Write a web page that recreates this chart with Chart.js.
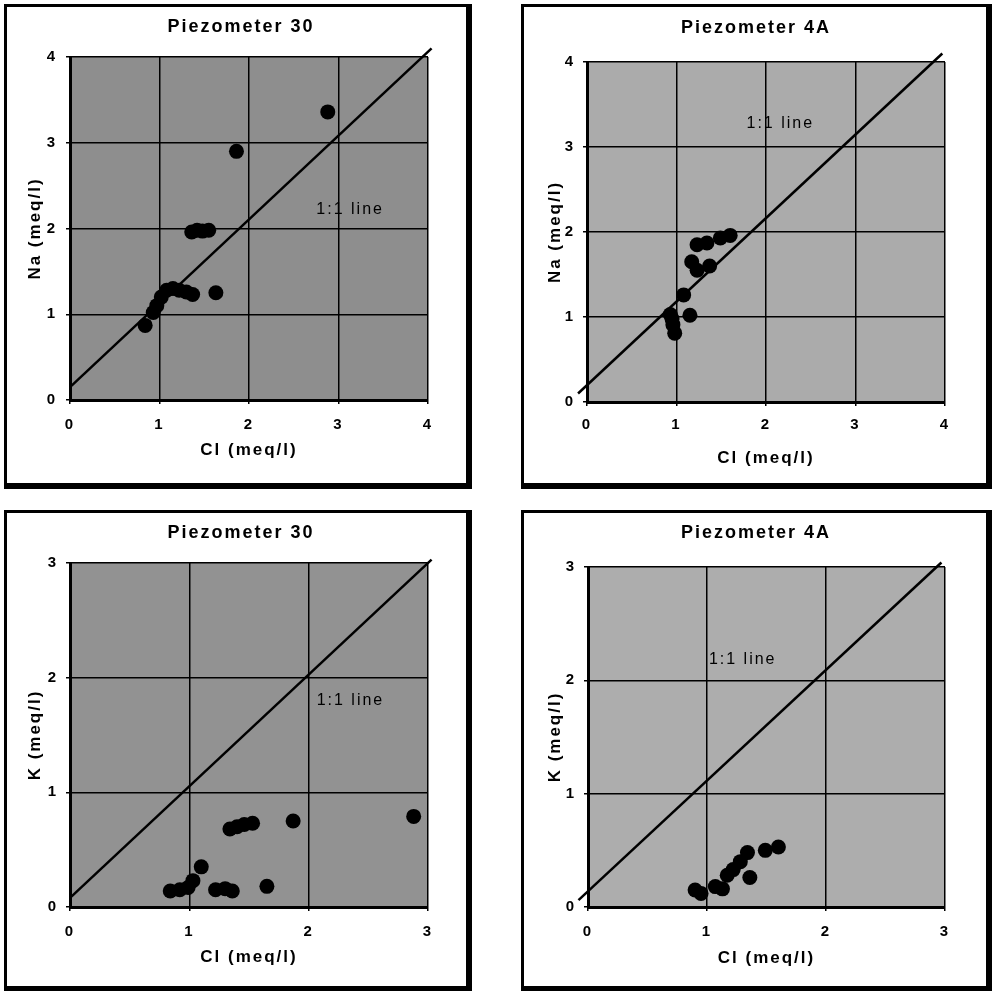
<!DOCTYPE html>
<html><head><meta charset="utf-8">
<script src="https://cdn.jsdelivr.net/npm/chart.js@4"></script>
<style>
html,body{margin:0;padding:0;background:#fff;width:996px;height:991px;overflow:hidden;}
.panel{position:absolute;}
.panel canvas{position:absolute;left:0;top:0;}
.frame{position:absolute;left:0;top:0;right:0;bottom:0;box-sizing:border-box;border-style:solid;border-color:#000;pointer-events:none;}
</style></head><body>
<div id="p0" class="panel"><canvas id="c0"></canvas><div class="frame"></div></div>
<div id="p1" class="panel"><canvas id="c1"></canvas><div class="frame"></div></div>
<div id="p2" class="panel"><canvas id="c2"></canvas><div class="frame"></div></div>
<div id="p3" class="panel"><canvas id="c3"></canvas><div class="frame"></div></div>
<script>
// ---------- data ----------
const ticksNa = [0, 1, 2, 3, 4];
const ticksK = [0, 1, 2, 3];
const titles = ['Piezometer 30', 'Piezometer 4A', 'Piezometer 30', 'Piezometer 4A'];
const xTitle = 'Cl (meq/l)';
const yTitles = ['Na (meq/l)', 'Na (meq/l)', 'K (meq/l)', 'K (meq/l)'];
const lineLabel = '1:1 line';

// Piezometer 30: Na vs Cl
const cl30Na = [2.88, 1.86, 1.36, 1.42, 1.48, 1.55, 1.63, 1.08, 1.15, 1.22, 1.30, 1.37, 1.02, 0.97, 0.93, 0.84];
const na30   = [3.36, 2.90, 1.96, 1.98, 1.97, 1.98, 1.25, 1.28, 1.30, 1.28, 1.26, 1.23, 1.20, 1.10, 1.02, 0.87];
// Piezometer 4A: Na vs Cl
const cl4ANa = [1.23, 1.34, 1.49, 1.60, 1.17, 1.23, 1.37, 1.08, 1.15, 0.93, 0.96, 0.98, 0.95];
const na4A   = [1.85, 1.87, 1.93, 1.96, 1.65, 1.55, 1.60, 1.26, 1.02, 1.03, 0.91, 0.81, 0.98];
// Piezometer 30: K vs Cl
const cl30K = [2.88, 1.87, 1.34, 1.40, 1.46, 1.53, 1.10, 1.65, 0.84, 0.92, 0.99, 1.03, 1.22, 1.30, 1.36];
const k30   = [0.79, 0.75, 0.68, 0.70, 0.72, 0.73, 0.35, 0.18, 0.14, 0.15, 0.17, 0.23, 0.15, 0.16, 0.14];
// Piezometer 4A: K vs Cl
const cl4AK = [0.90, 0.95, 1.07, 1.13, 1.17, 1.22, 1.28, 1.34, 1.36, 1.49, 1.60];
const k4A   = [0.15, 0.12, 0.18, 0.16, 0.28, 0.33, 0.40, 0.48, 0.26, 0.50, 0.53];

// 1:1 reference lines (end points as drawn)
const line30NaX = [0, 4.04],     line30NaY = [0.15, 4.1];
const line4ANaX = [-0.1, 3.97],  line4ANaY = [0.1, 4.1];
const line30KX  = [0, 3.03],     line30KY  = [0.08, 3.03];
const line4AKX  = [-0.08, 2.97], line4AKY  = [0.06, 3.04];

// ---------- layout / style ----------
const panels = [
  {L:4,   T:4,   W:468, H:485, bw:'3px 6px 6px 3px', pL:66, pR:424, pT:53, pB:396, tX:236, tY:23, yT:31, xT:446, xG:25, yG:13, bg:'#8e8e8e',
   xs:cl30Na, ys:na30, lx:line30NaX, ly:line30NaY, ticks:ticksNa, lab:[3.13, 2.22]},
  {L:521, T:4,   W:471, H:485, bw:'3px 6px 6px 3px', pL:66, pR:424, pT:58, pB:398, tX:234, tY:24, yT:34, xT:454, xG:23, yG:12, bg:'#ababab',
   xs:cl4ANa, ys:na4A, lx:line4ANaX, ly:line4ANaY, ticks:ticksNa, lab:[2.16, 3.28]},
  {L:4,   T:510, W:468, H:481, bw:'3px 6px 5px 3px', pL:66, pR:424, pT:53, pB:397, tX:236, tY:23, yT:31, xT:447, xG:25, yG:12, bg:'#929292',
   xs:cl30K, ys:k30, lx:line30KX, ly:line30KY, ticks:ticksK, lab:[2.35, 1.80]},
  {L:521, T:510, W:471, H:481, bw:'3px 6px 5px 3px', pL:67, pR:424, pT:57, pB:397, tX:234, tY:23, yT:34, xT:448, xG:25, yG:12, bg:'#adadad',
   xs:cl4AK, ys:k4A, lx:line4AKX, ly:line4AKY, ticks:ticksK, lab:[1.30, 2.18]}
];

const FONT = '"Liberation Sans", Arial, sans-serif';
const LS = '2px';

const panelPlugin = {
  id: 'panelDeco',
  beforeUpdate(chart) { chart.ctx.letterSpacing = LS; },
  beforeLayout(chart) { chart.ctx.letterSpacing = LS; },
  beforeDraw(chart, args, opts) {
    const ctx = chart.ctx, a = chart.chartArea;
    ctx.letterSpacing = LS;
    ctx.save();
    ctx.fillStyle = opts.bg;
    ctx.fillRect(a.left, a.top, a.right - a.left, a.bottom - a.top);
    // chart title
    ctx.font = 'bold 18px ' + FONT;
    ctx.fillStyle = '#000';
    ctx.textAlign = 'center';
    ctx.textBaseline = 'middle';
    ctx.fillText(opts.title, opts.tX + 1, opts.tY);
    ctx.restore();
  },
  afterDatasetsDraw(chart, args, opts) {
    const ctx = chart.ctx;
    const x = chart.scales.x.getPixelForValue(opts.lab[0]);
    const y = chart.scales.y.getPixelForValue(opts.lab[1]);
    ctx.save();
    ctx.letterSpacing = LS;
    ctx.font = '16px ' + FONT;
    ctx.fillStyle = '#000';
    ctx.textAlign = 'center';
    ctx.textBaseline = 'middle';
    ctx.fillText(lineLabel, x, y);
    ctx.restore();
  }
};

panels.forEach((p, i) => {
  const div = document.getElementById('p' + i);
  div.style.left = p.L + 'px'; div.style.top = p.T + 'px';
  div.style.width = p.W + 'px'; div.style.height = p.H + 'px';
  div.querySelector('.frame').style.borderWidth = p.bw;
  const cv = document.getElementById('c' + i);
  cv.width = p.W; cv.height = p.H;
  cv.style.width = p.W + 'px'; cv.style.height = p.H + 'px';

  const pts = p.xs.map((v, j) => ({x: v, y: p.ys[j]}));
  const line = p.lx.map((v, j) => ({x: v, y: p.ly[j]}));
  const maxV = p.ticks[p.ticks.length - 1];
  const tickFont = {family: FONT, size: 15, weight: 'bold', lineHeight: 1.2};
  const axisFont = {family: FONT, size: 17, weight: 'bold', lineHeight: 1.2};
  const tl = 4;

  new Chart(cv, {
    type: 'scatter',
    data: {
      datasets: [
        {data: pts, backgroundColor: '#000', borderColor: '#000', borderWidth: 0, pointRadius: 7.5, pointHoverRadius: 7.5, showLine: false},
        {data: line, showLine: true, borderColor: '#000', borderWidth: 2.5, pointRadius: 0, clip: false, fill: false}
      ]
    },
    options: {
      responsive: false, animation: false, devicePixelRatio: 1,
      layout: {padding: {left: 0, top: p.pT, bottom: 0, right: p.W - p.pR}},
      plugins: {
        legend: {display: false}, tooltip: {enabled: false}, title: {display: false},
        panelDeco: {bg: p.bg, lab: p.lab, title: titles[i], tX: p.tX, tY: p.tY}
      },
      scales: {
        x: {
          type: 'linear', min: 0, max: maxV,
          afterBuildTicks: s => { s.ticks = p.ticks.map(v => ({value: v})); },
          afterFit: s => { s.height = p.H - p.pB; },
          grid: {color: '#000', lineWidth: 1.5, tickLength: tl, drawTicks: true},
          border: {color: '#000', width: 3},
          ticks: {color: '#000', font: tickFont, padding: p.xG - tl - 9, maxRotation: 0, autoSkip: false},
          title: {display: true, text: xTitle, color: '#000', font: axisFont,
                  padding: {top: 0, bottom: p.H - p.xT - 10.2}}
        },
        y: {
          type: 'linear', min: 0, max: maxV,
          afterBuildTicks: s => { s.ticks = p.ticks.map(v => ({value: v})); },
          afterFit: s => { s.width = p.pL; },
          grid: {color: '#000', lineWidth: 1.5, tickLength: tl, drawTicks: true},
          border: {color: '#000', width: 3},
          ticks: {color: '#000', font: tickFont, padding: p.yG - tl, autoSkip: false},
          title: {display: true, text: yTitles[i], color: '#000', font: axisFont,
                  padding: {top: p.yT - 10.2, bottom: 0}}
        }
      }
    },
    plugins: [panelPlugin]
  });
});
</script>
</body></html>
